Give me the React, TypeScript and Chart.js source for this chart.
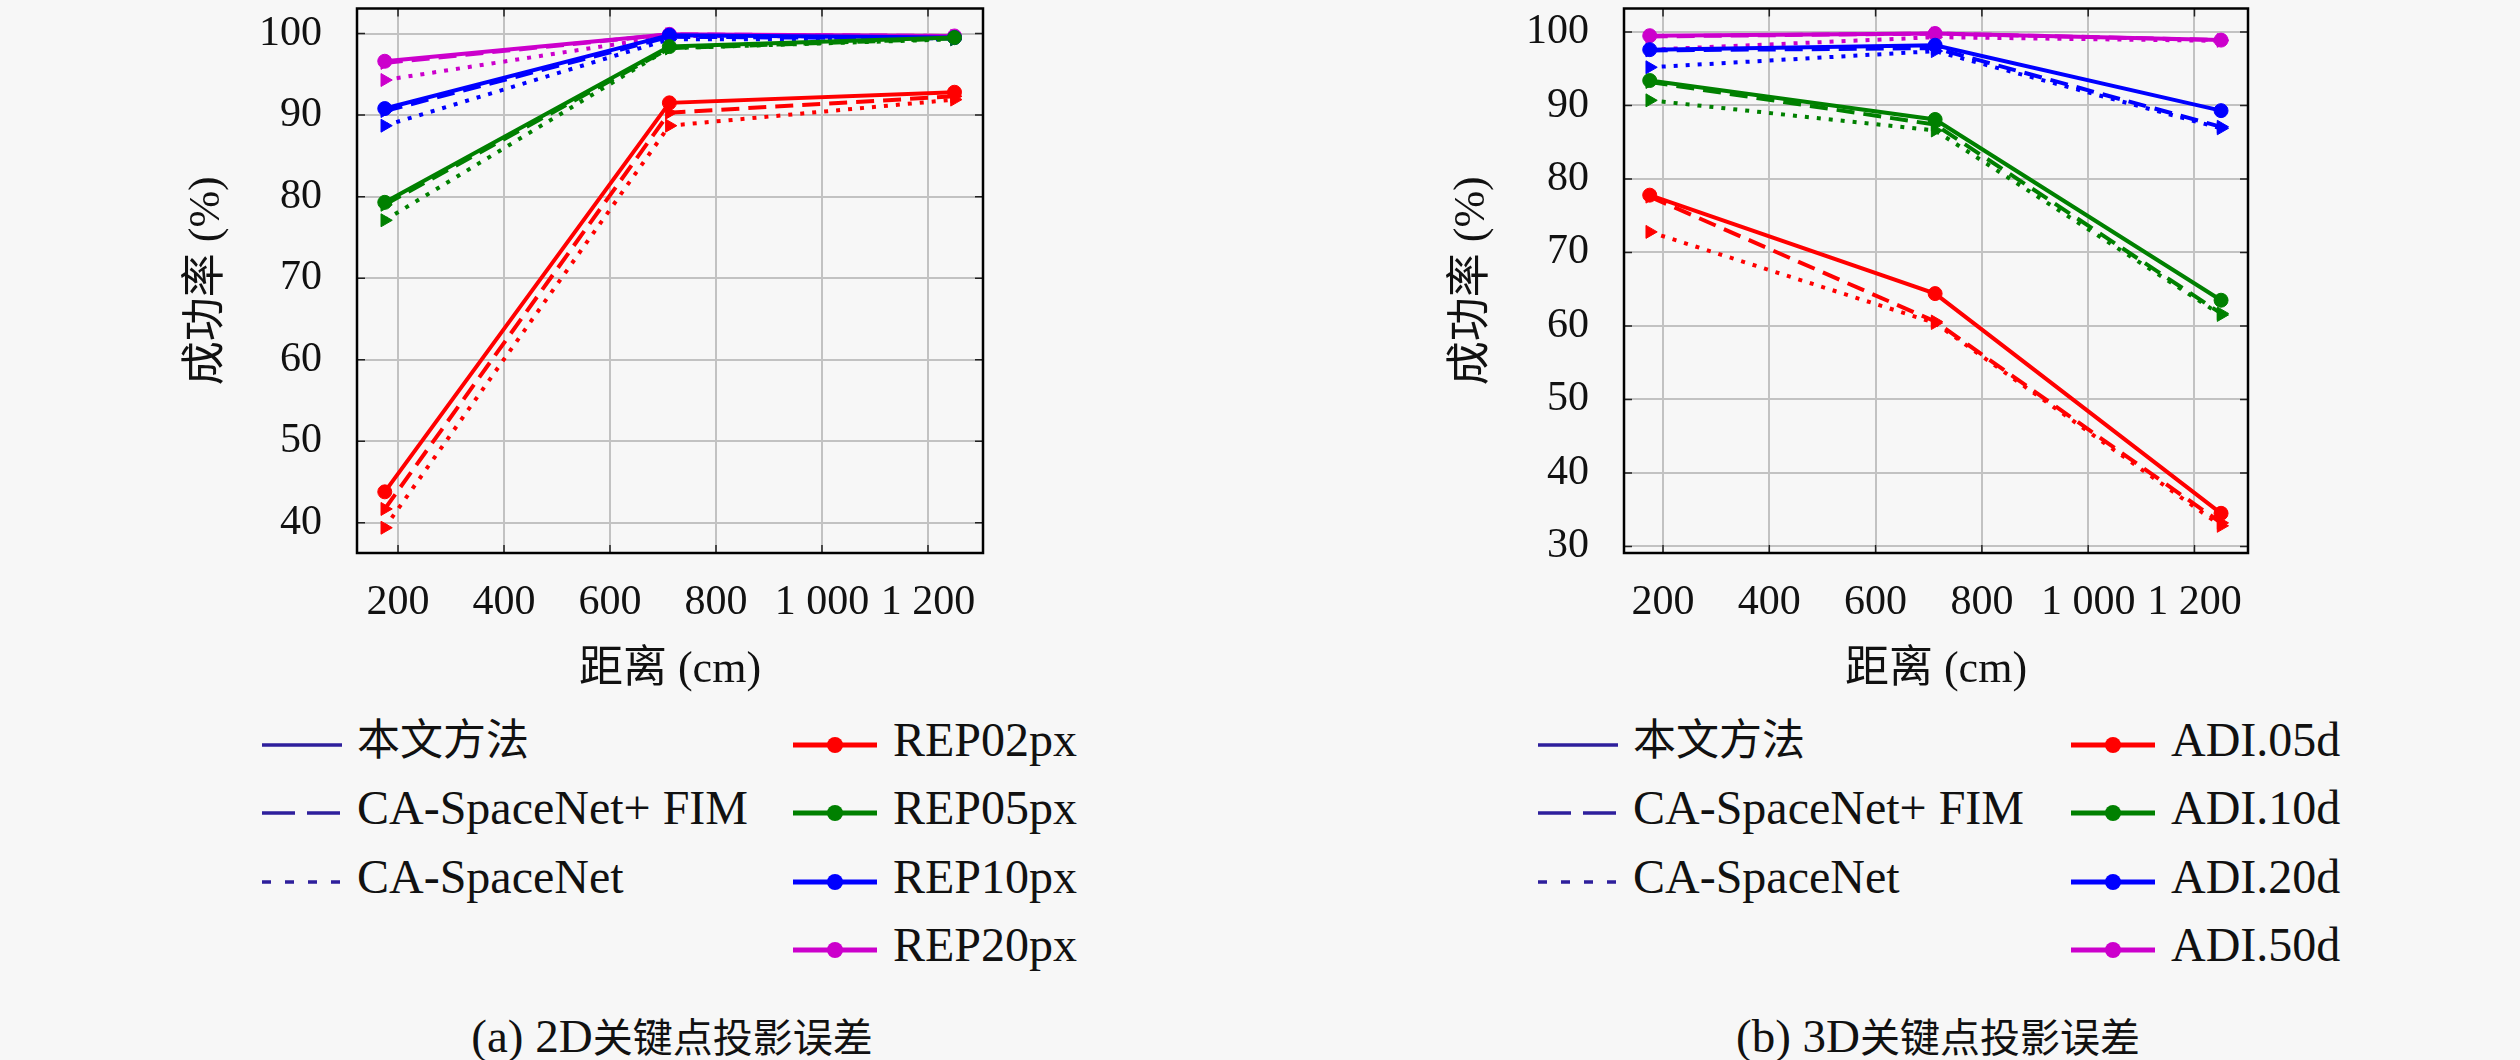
import { useEffect, useRef } from 'react';
import { Chart, registerables } from 'chart.js';

Chart.register(...registerables);

// distances (cm) where the three measurements were taken
const distances = [175, 712, 1250];
const xTicks = [200, 400, 600, 800, 1000, 1200];

// (a) 2D keypoint projection error, success rate (%)
const rep02Ours = [43.8, 91.5, 92.8];
const rep02Fim = [41.7, 90.3, 92.3];
const rep02Base = [39.4, 88.7, 91.9];
const rep05Ours = [79.3, 98.4, 99.5];
const rep05Fim = [79.0, 98.2, 99.4];
const rep05Base = [77.1, 98.2, 99.3];
const rep10Ours = [90.8, 99.8, 99.5];
const rep10Fim = [90.5, 99.6, 99.4];
const rep10Base = [88.7, 99.3, 99.3];
const rep20Ours = [96.6, 99.9, 99.7];
const rep20Fim = [96.4, 99.9, 99.7];
const rep20Base = [94.3, 99.7, 99.6];

// (b) 3D keypoint projection error, success rate (%)
const adi05Ours = [77.8, 64.4, 34.5];
const adi05Fim = [77.6, 60.6, 33.2];
const adi05Base = [72.8, 60.4, 32.8];
const adi10Ours = [93.4, 88.1, 63.5];
const adi10Fim = [93.2, 87.4, 61.7];
const adi10Base = [90.7, 86.6, 61.5];
const adi20Ours = [97.6, 98.2, 89.3];
const adi20Fim = [97.5, 97.8, 87.1];
const adi20Base = [95.2, 97.4, 86.9];
const adi50Ours = [99.5, 99.8, 98.9];
const adi50Fim = [99.4, 99.8, 98.9];
const adi50Base = [97.6, 99.3, 98.8];

const methodLabels = ['本文方法', 'CA-SpaceNet+ FIM', 'CA-SpaceNet'];
const repLabels = ['REP02px', 'REP05px', 'REP10px', 'REP20px'];
const adiLabels = ['ADI.05d', 'ADI.10d', 'ADI.20d', 'ADI.50d'];

const FONT = '"Liberation Serif", "DejaVu Serif", "Noto Sans CJK SC", serif';
const BG = '#f7f7f7';
const RED = '#ff0000';
const GREEN = '#008000';
const BLUE = '#0000ff';
const MAGENTA = '#cc00cc';
const NAVY = '#2e1f9c';
const COLORS = [RED, GREEN, BLUE, MAGENTA];

type Group = [string, number[], number[], number[]];

function line(color: string, values: number[], dash: number[], point: string) {
  return {
    data: values.map((y, i) => ({ x: distances[i], y })),
    borderColor: color,
    backgroundColor: color,
    borderWidth: 4,
    borderDash: dash,
    pointStyle: point,
    pointRotation: point === 'triangle' ? 90 : 0,
    pointRadius: point === 'triangle' ? 7.5 : 7,
    pointBorderWidth: 1,
    tension: 0,
  };
}

function buildDatasets(groups: Group[]) {
  const solid = groups.map(([c, ours]) => line(c, ours, [], 'circle'));
  const dashed = groups.map(([c, , fim]) => line(c, fim, [18, 9], 'triangle'));
  const dotted = groups.map(([c, , , base]) => line(c, base, [4, 8], 'triangle'));
  return [...solid, ...dashed, ...dotted];
}

// box around the plot with short inward ticks
const framePlugin = {
  id: 'frame',
  afterDraw(chart: any) {
    const { ctx, chartArea: a, scales } = chart;
    const tk = 8;
    ctx.save();
    ctx.strokeStyle = '#222';
    ctx.lineWidth = 1.5;
    ctx.beginPath();
    scales.x.ticks.forEach((t: any) => {
      const px = scales.x.getPixelForValue(t.value);
      ctx.moveTo(px, a.bottom);
      ctx.lineTo(px, a.bottom - tk);
      ctx.moveTo(px, a.top);
      ctx.lineTo(px, a.top + tk);
    });
    scales.y.ticks.forEach((t: any) => {
      const py = scales.y.getPixelForValue(t.value);
      ctx.moveTo(a.left, py);
      ctx.lineTo(a.left + tk, py);
      ctx.moveTo(a.right, py);
      ctx.lineTo(a.right - tk, py);
    });
    ctx.stroke();
    ctx.strokeStyle = '#000';
    ctx.lineWidth = 2.5;
    ctx.strokeRect(a.left, a.top, a.right - a.left, a.bottom - a.top);
    ctx.restore();
  },
};

interface PanelProps {
  left: number;
  width: number;
  height: number;
  area: { left: number; top: number; right: number; bottom: number };
  yTitleX: number;
  xRange: [number, number];
  yRange: [number, number];
  groups: Group[];
}

function Panel({ left, width, height, area, yTitleX, xRange, yRange, groups }: PanelProps) {
  const canvasRef = useRef<HTMLCanvasElement>(null);

  useEffect(() => {
    if (!canvasRef.current) return;
    const titleFont = { family: FONT, size: 44, lineHeight: 1.2 };
    const chart = new Chart(canvasRef.current, {
      type: 'line',
      data: { datasets: buildDatasets(groups) as any },
      plugins: [framePlugin],
      options: {
        responsive: false,
        animation: false,
        devicePixelRatio: 1,
        layout: { padding: { top: area.top, right: width - area.right, left: 0, bottom: 0 } },
        plugins: { legend: { display: false }, tooltip: { enabled: false } },
        scales: {
          x: {
            type: 'linear',
            min: xRange[0],
            max: xRange[1],
            afterBuildTicks: (s: any) => {
              s.ticks = xTicks.map((value) => ({ value }));
            },
            afterFit: (s: any) => {
              s.height = height - area.bottom;
              s.paddingLeft = 0;
              s.paddingRight = 0;
            },
            ticks: {
              padding: 25,
              color: '#111',
              font: { family: FONT, size: 42 },
              callback: (v: any) => (v >= 1000 ? `${Math.floor(v / 1000)} ${String(v % 1000).padStart(3, '0')}` : `${v}`),
            },
            grid: { color: '#c2c2c2', lineWidth: 2, drawTicks: false },
            border: { display: false },
            title: { display: true, text: '距离 (cm)', color: '#111', font: titleFont, padding: { top: 0, bottom: 3.6 } },
          },
          y: {
            min: yRange[0],
            max: yRange[1],
            ticks: { stepSize: 10, includeBounds: false, padding: 35, color: '#111', font: { family: FONT, size: 42 } },
            afterFit: (s: any) => {
              s.width = area.left;
              s.paddingTop = 0;
              s.paddingBottom = 0;
            },
            grid: { color: '#c2c2c2', lineWidth: 2, drawTicks: false },
            border: { display: false },
            title: { display: true, text: '成功率 (%)', color: '#111', font: titleFont, padding: { top: yTitleX - 26.4, bottom: 0 } },
          },
        },
      },
    });
    return () => {
      chart.destroy();
    };
  }, []);

  return (
    <canvas
      ref={canvasRef}
      width={width}
      height={height}
      style={{ position: 'absolute', left, top: 0, width, height }}
    />
  );
}

// Latin runs and CJK runs get their own sizes, like the reference typesetting
function Mixed({ text, latin, cjk }: { text: string; latin: number; cjk: number }) {
  const runs = text.match(/[\u4e00-\u9fff]+|[^\u4e00-\u9fff]+/g) || [];
  return (
    <>
      {runs.map((r, i) => (
        <span key={i} style={{ fontSize: /[\u4e00-\u9fff]/.test(r) ? cjk : latin }}>
          {r}
        </span>
      ))}
    </>
  );
}

function Swatch({ dash, color, marker }: { dash?: string; color: string; marker?: boolean }) {
  return (
    <svg width={marker ? 84 : 80} height={30} style={{ display: 'block' }}>
      <line x1={0} x2={marker ? 84 : 80} y1={15} y2={15} stroke={color} strokeWidth={marker ? 5 : 3.5} strokeDasharray={dash} />
      {marker && <circle cx={42} cy={15} r={8} fill={color} />}
    </svg>
  );
}

const textStyle = { fontFamily: FONT, color: '#111', whiteSpace: 'nowrap' as const, lineHeight: '60px' };
const rowY = [745, 813, 882, 950];
const methodDash = [undefined, '33 12', '9 14'];

function Legend({ methodX, colorX, items }: { methodX: number; colorX: number; items: string[] }) {
  return (
    <>
      {methodLabels.map((label, i) => (
        <div key={label} style={{ position: 'absolute', left: methodX, top: rowY[i] - 30, height: 60, display: 'flex', alignItems: 'center', gap: 15 }}>
          <Swatch dash={methodDash[i]} color={NAVY} />
          <span style={textStyle}>
            <Mixed text={label} latin={48} cjk={43} />
          </span>
        </div>
      ))}
      {items.map((label, i) => (
        <div key={label} style={{ position: 'absolute', left: colorX, top: rowY[i] - 30, height: 60, display: 'flex', alignItems: 'center', gap: 16 }}>
          <Swatch color={COLORS[i]} marker />
          <span style={textStyle}>
            <Mixed text={label} latin={48} cjk={43} />
          </span>
        </div>
      ))}
    </>
  );
}

function Caption({ center, text }: { center: number; text: string }) {
  return (
    <div style={{ position: 'absolute', left: center - 300, width: 600, top: 1006, textAlign: 'center', fontFamily: FONT, lineHeight: '60px', color: '#111', whiteSpace: 'nowrap' }}>
      <Mixed text={text} latin={47} cjk={40} />
    </div>
  );
}

export default function App() {
  const groupsA: Group[] = [
    [RED, rep02Ours, rep02Fim, rep02Base],
    [GREEN, rep05Ours, rep05Fim, rep05Base],
    [BLUE, rep10Ours, rep10Fim, rep10Base],
    [MAGENTA, rep20Ours, rep20Fim, rep20Base],
  ];
  const groupsB: Group[] = [
    [RED, adi05Ours, adi05Fim, adi05Base],
    [GREEN, adi10Ours, adi10Fim, adi10Base],
    [BLUE, adi20Ours, adi20Fim, adi20Base],
    [MAGENTA, adi50Ours, adi50Fim, adi50Base],
  ];

  return (
    <div style={{ position: 'absolute', left: 0, top: 0, width: 2520, height: 1060, background: BG, overflow: 'hidden' }}>
      <Panel
        left={100}
        width={1000}
        height={700}
        area={{ left: 257, top: 4.4, right: 883, bottom: 553 }}
        yTitleX={107}
        xRange={[122.6, 1303.8]}
        yRange={[36.3, 103.07]}
        groups={groupsA}
      />
      <Panel
        left={1350}
        width={1000}
        height={700}
        area={{ left: 274, top: 4.4, right: 898, bottom: 553 }}
        yTitleX={122}
        xRange={[126.6, 1300.7]}
        yRange={[29.1, 103.2]}
        groups={groupsB}
      />
      <Legend methodX={262} colorX={793} items={repLabels} />
      <Legend methodX={1538} colorX={2071} items={adiLabels} />
      <Caption center={672} text="(a) 2D关键点投影误差" />
      <Caption center={1938} text="(b) 3D关键点投影误差" />
    </div>
  );
}
